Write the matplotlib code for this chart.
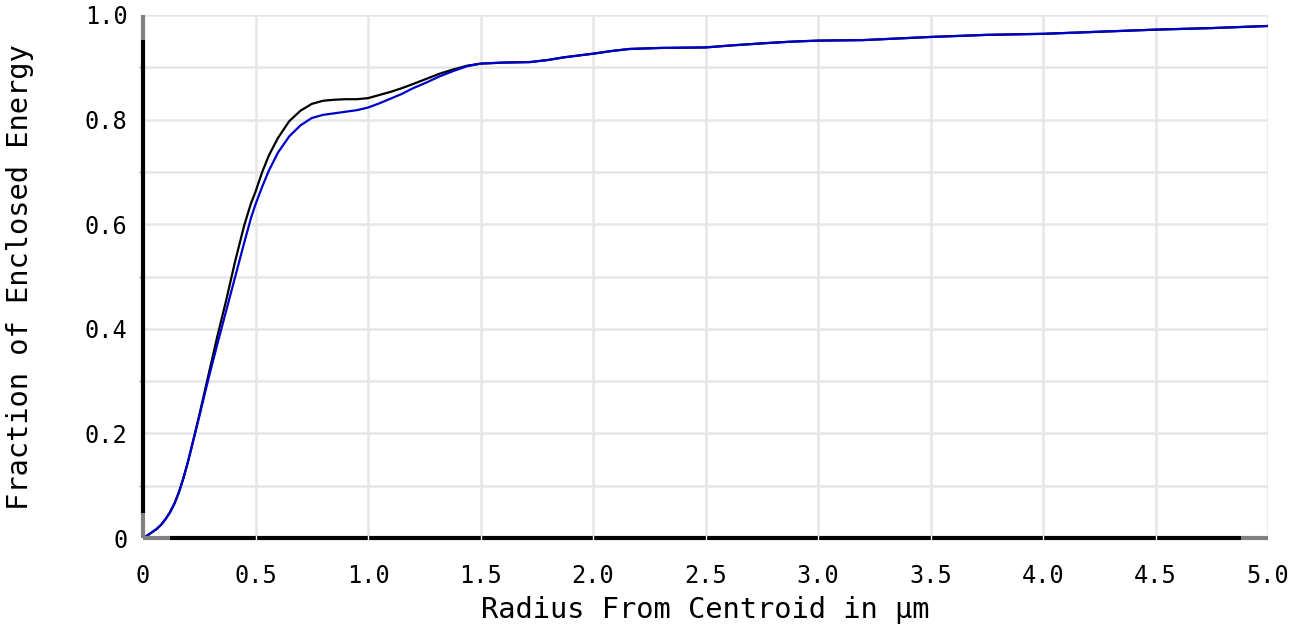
import matplotlib
matplotlib.use("Agg")
import matplotlib.pyplot as plt

# Data
radius = [0, 0.02, 0.04, 0.06, 0.08, 0.10, 0.12, 0.14, 0.16, 0.18, 0.20, 0.22, 0.25, 0.29,
          0.33, 0.37, 0.41, 0.45, 0.48, 0.50, 0.53, 0.56, 0.60, 0.65, 0.70, 0.75, 0.80, 0.85,
          0.90, 0.95, 1.00, 1.05, 1.10, 1.15, 1.20, 1.26, 1.32, 1.38, 1.44, 1.50, 1.60, 1.72,
          1.80, 1.87, 2.00, 2.08, 2.16, 2.30, 2.50, 2.62, 2.76, 2.88, 3.00, 3.20, 3.50, 3.75,
          4.00, 4.25, 4.50, 4.75, 5.00]

energy_blue = [0, 0.005, 0.011, 0.017, 0.025, 0.036, 0.049, 0.066, 0.088, 0.115, 0.146, 0.180,
               0.232, 0.303, 0.370, 0.435, 0.500, 0.565, 0.612, 0.638, 0.672, 0.703, 0.737,
               0.768, 0.789, 0.803, 0.809, 0.812, 0.815, 0.818, 0.823, 0.831, 0.840, 0.849,
               0.860, 0.871, 0.883, 0.893, 0.902, 0.907, 0.909, 0.910, 0.914, 0.919, 0.926,
               0.931, 0.935, 0.937, 0.938, 0.942, 0.946, 0.949, 0.951, 0.952, 0.958, 0.962,
               0.964, 0.968, 0.972, 0.975, 0.979]

energy_black = [0, 0.005, 0.011, 0.017, 0.025, 0.036, 0.049, 0.066, 0.088, 0.115, 0.146, 0.181,
                0.235, 0.310, 0.385, 0.455, 0.530, 0.598, 0.640, 0.662, 0.700, 0.732, 0.765,
                0.797, 0.817, 0.830, 0.836, 0.838, 0.839, 0.839, 0.841, 0.847, 0.853, 0.860,
                0.868, 0.878, 0.888, 0.896, 0.903, 0.907, 0.909, 0.910, 0.914, 0.919, 0.926,
                0.931, 0.935, 0.937, 0.938, 0.942, 0.946, 0.949, 0.951, 0.952, 0.958, 0.962,
                0.964, 0.968, 0.972, 0.975, 0.979]

x_ticks = [0, 0.5, 1.0, 1.5, 2.0, 2.5, 3.0, 3.5, 4.0, 4.5, 5.0]
x_tick_labels = ["0", "0.5", "1.0", "1.5", "2.0", "2.5", "3.0", "3.5", "4.0", "4.5", "5.0"]
y_ticks = [0, 0.2, 0.4, 0.6, 0.8, 1.0]
y_tick_labels = ["0", "0.2", "0.4", "0.6", "0.8", "1.0"]
y_grid = [0.1, 0.2, 0.3, 0.4, 0.5, 0.6, 0.7, 0.8, 0.9, 1.0]

FONT = "DejaVu Sans Mono"
W, H = 1300, 630
fig = plt.figure(figsize=(13, 6.3), dpi=100)
ax = fig.add_axes([143 / W, 1 - 538 / H, (1268 - 143) / W, (538 - 15) / H])

ax.set_xlim(0, 5)
ax.set_ylim(0, 1)

# grid
for gx in x_ticks[1:]:
    ax.axvline(gx, color="#e6e6e6", lw=1.8, zorder=1)
for gy in y_grid:
    ax.axhline(gy, color="#e6e6e6", lw=1.8, zorder=1)

ax.plot(radius, energy_black, color="black", lw=1.6, zorder=3)
ax.plot(radius, energy_blue, color="#0000cc", lw=1.6, zorder=4)

for s in ax.spines.values():
    s.set_visible(False)

# custom axis lines
ax.plot([0, 0], [0.048, 0.952], transform=ax.transAxes, color="black", lw=3,
        solid_capstyle="butt", clip_on=False, zorder=5)
ax.plot([0, 0], [0.952, 1.0], transform=ax.transAxes, color="#808080", lw=3,
        solid_capstyle="butt", clip_on=False, zorder=5)
ax.plot([0, 0], [0.0, 0.048], transform=ax.transAxes, color="#808080", lw=3,
        solid_capstyle="butt", clip_on=False, zorder=5)
ax.plot([0.024, 0.976], [0, 0], transform=ax.transAxes, color="black", lw=3,
        solid_capstyle="butt", clip_on=False, zorder=5)
ax.plot([0.0, 0.024], [0, 0], transform=ax.transAxes, color="#808080", lw=3,
        solid_capstyle="butt", clip_on=False, zorder=5)
ax.plot([0.976, 1.0], [0, 0], transform=ax.transAxes, color="#808080", lw=3,
        solid_capstyle="butt", clip_on=False, zorder=5)
# white notches where grid crosses bottom axis
for gx in x_ticks[1:-1]:
    ax.plot([gx, gx], [-0.004, 0.004], color="white", lw=1, clip_on=False, zorder=6)

ax.set_xticks(x_ticks)
ax.set_xticklabels(x_tick_labels, fontfamily=FONT, fontsize=17)
ax.set_yticks(y_ticks)
ax.set_yticklabels(y_tick_labels, fontfamily=FONT, fontsize=17)
ax.set_yticks(y_grid, minor=True)
ax.tick_params(axis="x", length=0, pad=19)
ax.tick_params(axis="y", which="major", length=0, pad=11)
ax.tick_params(axis="y", which="minor", length=3, width=1, color="#a0a0a0")

fig.text(705.5 / W, 1 - 610 / H, "Radius From Centroid in µm", fontfamily=FONT,
         fontsize=20.7, ha="center", va="center")
fig.text(20 / W, 1 - 277 / H, "Fraction of Enclosed Energy", fontfamily=FONT,
         fontsize=20.7, ha="center", va="center", rotation=90)

fig.savefig("out.png", dpi=100, facecolor="white")
